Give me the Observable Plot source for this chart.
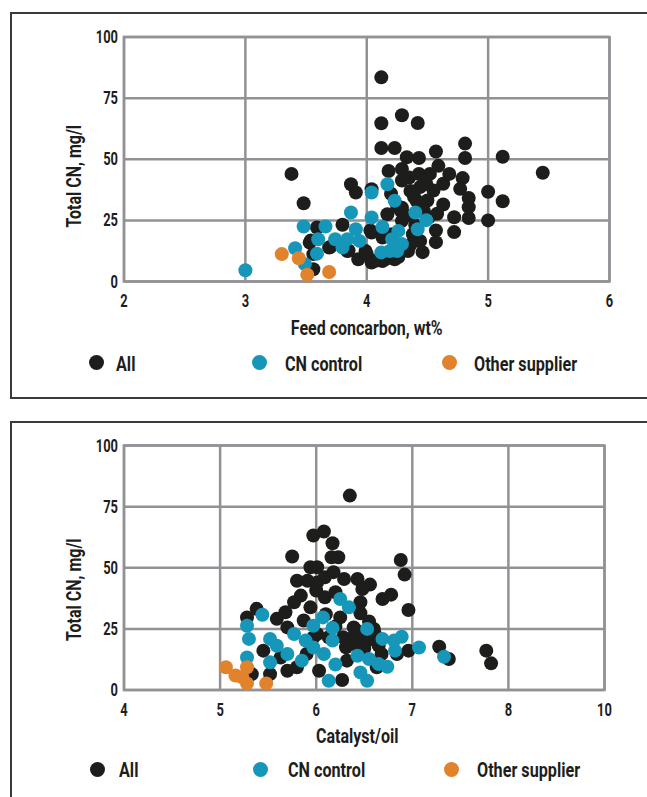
<!DOCTYPE html>
<html>
<head>
<meta charset="utf-8">
<script src="https://cdn.jsdelivr.net/npm/d3@7"></script>
<script src="https://cdn.jsdelivr.net/npm/@observablehq/plot@0.6"></script>
<style>
  html, body { margin: 0; padding: 0; background: #fff; }
  body { width: 647px; height: 797px; overflow: hidden; position: relative;
         font-family: Roboto, "Noto Sans", sans-serif; font-weight: bold; color: #1d1d1b; }
  .box { position: absolute; left: 10px; width: 720px; border: 2px solid #3a3a3a; box-sizing: border-box; }
  .chart { position: absolute; left: 0; }
  .leg-dot { position: absolute; width: 15px; height: 15px; border-radius: 50%; }
  .leg-txt { position: absolute; font-size: 21px; line-height: 24px; height: 24px; white-space: nowrap;
             transform: scaleX(0.77); transform-origin: 0 50%; }
</style>
</head>
<body>
<div class="box" style="top:12px;height:387px;"></div>
<div class="box" style="top:421px;height:420px;"></div>
<script>
// ---- series / labels ----
const seriesNames = ["All", "CN control", "Other supplier"];
const seriesColors = ["#1d1d1b", "#1697ba", "#e1822c"];
const yTicks = [0, 25, 50, 75, 100];
const feedTicks = [2, 3, 4, 5, 6];
const catTicks = [4, 5, 6, 7, 8, 9];
const catTickLabels = ["4", "5", "6", "7", "8", "10"];
const yTitle = "Total CN, mg/l";
const feedTitle = "Feed concarbon, wt%";
const catTitle = "Catalyst/oil";

// ---- panel 1: feed concarbon (wt%) vs total CN (mg/l) ----
const feedAll = [
  [4.12,83.5],[4.12,64.7],[4.29,68],[4.42,64.8],[4.12,54.6],[4.23,54.6],[4.33,50.8],[4.43,50.5],
  [4.57,53.2],[4.81,56.4],[4.81,50.5],[5.12,51],[5.45,44.5],[3.38,44],[3.48,32],
  [4.18,45.2],[4.29,46],[4.43,44],[4.52,44],[4.59,47.3],[4.68,44],[4.79,42.3],[4.77,37.9],
  [4.63,40],[4.55,37.2],[4.44,38.6],[4.29,41.3],[4.20,35.9],[4.39,34.5],[4.50,33.1],[4.28,29],
  [4.36,37],[4.49,40],[4.35,42.5],[5.0,36.7],[5.12,32.8],[5.0,25],[4.84,34.2],[4.84,30.4],
  [4.84,26],[4.72,20.2],[4.72,26.3],[4.63,31.5],[4.58,27.7],[4.57,20.9],[4.57,16.1],[4.46,12],
  [4.44,16.6],[4.34,12.5],[4.23,9.1],[4.13,8.4],[4.04,7.8],[4.04,20],[4.13,18],[4.21,19.3],
  [4.29,24.8],[4.38,19.3],[4.41,33],[4.17,27.5],[4.29,30.2],[4.51,26.2],[3.93,9.1],[3.99,12.5],
  [3.84,12.5],[3.80,23.2],[3.87,39.8],[3.91,36.4],[4.04,37.7],[3.69,13.9],[3.59,22.1],[3.53,15.9],
  [3.56,11.2],[3.56,5],[3.54,16.8],[3.70,14.1],[3.85,12.7],[4.0,11.3],[4.03,20.9],[4.08,8.6],
  [4.16,9.3],[4.26,10],[4.25,31],[4.33,27],[4.40,23],[4.47,29],[4.36,15]
];
const feedControl = [
  [3.0,4.6],[3.48,22.5],[3.41,13.6],[3.49,7.1],[3.59,11.4],[3.60,17.3],[3.66,22.5],[3.74,17.3],
  [3.80,13.9],[3.87,28.2],[3.84,17.3],[3.91,21.4],[3.94,16.6],[4.04,36.4],[4.04,26.2],[4.13,22.3],
  [4.17,39.8],[4.23,33],[4.12,11.9],[4.19,12.5],[4.21,17.3],[4.26,20.7],[4.29,15.3],[4.25,12.5],
  [4.40,28.2],[4.42,21.4],[4.49,25.1]
];
const feedOther = [[3.30,11.2],[3.44,9.5],[3.51,2.8],[3.69,3.9]];

// ---- panel 2: catalyst/oil vs total CN (mg/l) ----
const catAll = [
  [6.35,79.5],[5.97,63.2],[6.08,64.8],[6.17,60],[6.23,54.3],[6.16,54.3],[5.75,54.6],[6.88,53.2],
  [6.92,47.2],[6.96,32.7],[6.69,37.2],[6.78,39],[6.43,45.4],[6.56,43.1],[6.29,45.4],[6.01,50.2],
  [5.94,50.2],[5.91,44.7],[5.80,44.7],[6.09,46.1],[6.18,48.2],[6.48,41.3],[6.46,35.9],[6.46,31.4],
  [6.39,25.6],[6.49,21.5],[6.36,21],[6.65,18.1],[6.84,14.7],[7.28,17.7],[7.38,12.7],[7.77,16.1],
  [7.82,10.9],[6.03,7.9],[6.27,4.1],[6.32,12],[6.63,9.3],[6.25,29.7],[5.38,33.2],[5.28,29.7],
  [5.59,29.1],[5.68,31.8],[5.77,35.9],[5.84,38.6],[5.94,33.8],[5.87,28.4],[5.70,25.6],[5.45,16.1],
  [5.63,13.3],[5.33,6.5],[5.52,6.5],[5.70,7.9],[5.80,9.3],[5.97,21.5],[6.01,22.9],[6.13,21.6],
  [6.09,37.9],[6.0,40.7],[6.28,21.6],[6.42,24.3],[6.61,22.9],[6.53,20.2],[6.31,17.5],[6.39,18.8],
  [6.68,14.7],[6.96,16.1],[6.01,44],[6.2,40],[5.9,14.7],[6.1,31],[6.2,26],[6.55,28],[6.6,25],
  [6.4,20],[6.5,17]
];
const catControl = [
  [6.25,37.2],[6.34,33.8],[5.44,30.8],[5.28,26.3],[5.30,20.9],[5.28,13.3],[5.52,11.3],[5.52,20.9],
  [5.59,18.1],[5.70,14.7],[5.77,22.9],[5.85,12],[5.89,20.2],[5.97,26.3],[6.07,29.7],[6.17,25.4],
  [6.17,20.2],[6.53,25],[6.69,20.9],[6.81,20.2],[6.89,21.8],[6.82,16.1],[7.07,17.4],[6.43,14],
  [6.55,12.7],[6.65,10.6],[6.74,9.5],[6.46,7.2],[6.53,3.8],[6.20,10.4],[6.13,3.8],[5.97,17.4],
  [6.08,14.7],[7.33,13.6]
];
const catOther = [[5.06,9.3],[5.16,5.9],[5.28,9.3],[5.28,2.7],[5.48,2.7],[5.23,5.2]];

// ---- build ----
const FONT = 'Roboto, "Noto Sans", sans-serif';
const GRID = "#929296";

function table(groups) {
  return groups.flatMap((pts, i) => pts.map(([x, y]) => ({x, y, series: seriesNames[i]})));
}

// horizontally condense text (simulates a condensed typeface), keeping each anchor in place
function condense(svg, selector, sx) {
  svg.querySelectorAll(selector).forEach(t => {
    const xa = t.getAttribute("x");
    if (xa != null && xa !== "" && !isNaN(+xa)) t.setAttribute("x", (+xa) / sx);
    const dxa = t.getAttribute("dx");
    if (dxa != null && dxa !== "" && !isNaN(+dxa)) t.setAttribute("dx", (+dxa) / sx);
    const s = svg.createSVGTransform();
    s.setScale(sx, 1);
    t.transform.baseVal.appendItem(s);
  });
}

function panel({data, xDomain, xTicks, xFormat, xTitle, xTitleDx, yTitleDy, marginTop, marginRight}) {
  const plotH = 244.5, mb = 60;
  const svg = Plot.plot({
    width: 647,
    height: marginTop + plotH + mb,
    marginLeft: 123.5, marginRight, marginTop, marginBottom: mb,
    style: {fontFamily: FONT, fontWeight: "bold", color: "#1d1d1b", background: "transparent", overflow: "visible"},
    x: {domain: xDomain},
    y: {domain: [0, 100]},
    color: {domain: seriesNames, range: seriesColors},
    marks: [
      Plot.gridX(xTicks, {stroke: GRID, strokeOpacity: 1, strokeWidth: 2.5}),
      Plot.gridY(yTicks, {stroke: GRID, strokeOpacity: 1, strokeWidth: 2.5}),
      Plot.frame({stroke: GRID, strokeWidth: 2.5}),
      Plot.axisX(xTicks, {tickSize: 0, tickPadding: 12, fontSize: 19, tickFormat: xFormat, label: null, className: "tk"}),
      Plot.axisY(yTicks, {tickSize: 0, tickPadding: 6, fontSize: 19, label: null, className: "tk"}),
      Plot.dot(data, {x: "x", y: "y", r: 7, fill: "series"}),
      Plot.text([xTitle], {frameAnchor: "bottom", textAnchor: "middle", lineAnchor: "middle",
        dy: 47, dx: xTitleDx, fontSize: 20, text: d => d, className: "ttl"}),
      Plot.text([yTitle], {frameAnchor: "left", textAnchor: "middle", lineAnchor: "middle", rotate: -90,
        dx: -49.5, dy: yTitleDy, fontSize: 20, text: d => d, className: "ttl"})
    ]
  });
  condense(svg, ".tk text", 0.68);
  condense(svg, ".ttl text", 0.8);
  return svg;
}

const p1 = panel({
  data: table([feedAll, feedControl, feedOther]),
  xDomain: [2, 6], xTicks: feedTicks, xFormat: d => String(d),
  xTitle: feedTitle, xTitleDx: 0, yTitleDy: 17, marginTop: 20.5, marginRight: 38
});
p1.classList.add("chart");
p1.style.top = "16px";
document.body.appendChild(p1);

const p2 = panel({
  data: table([catAll, catControl, catOther]),
  xDomain: [4, 9], xTicks: catTicks, xFormat: d => catTickLabels[catTicks.indexOf(d)],
  xTitle: catTitle, xTitleDx: -7, yTitleDy: 22, marginTop: 20, marginRight: 43
});
p2.classList.add("chart");
p2.style.top = "425px";
document.body.appendChild(p2);

// ---- legends ----
function legend(cy, dotX, txtX) {
  seriesNames.forEach((name, i) => {
    const d = document.createElement("div");
    d.className = "leg-dot";
    d.style.left = (dotX[i] - 7.5) + "px";
    d.style.top = (cy - 7.5) + "px";
    d.style.background = seriesColors[i];
    document.body.appendChild(d);
    const t = document.createElement("div");
    t.className = "leg-txt";
    t.textContent = name;
    t.style.left = txtX[i] + "px";
    t.style.top = (cy - 11) + "px";
    document.body.appendChild(t);
  });
}
legend(362.5, [96, 259.5, 449.5], [116, 285, 474]);
legend(769, [97.5, 260.7, 451], [119, 287.5, 477]);
</script>
</body>
</html>
